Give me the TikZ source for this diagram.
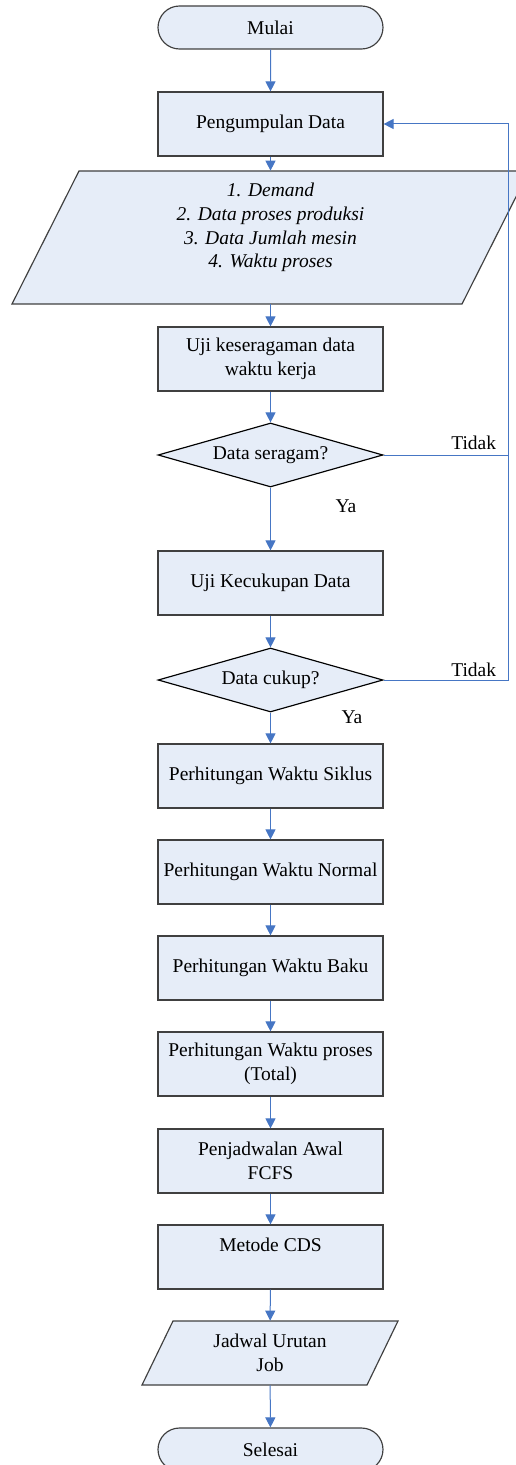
\documentclass[tikz,border=0pt]{standalone}
\usepackage{fontspec}
\setmainfont{Liberation Serif}
\usetikzlibrary{arrows.meta,shapes.geometric,shapes.misc}
\definecolor{boxfill}{RGB}{230,237,248}
\definecolor{flowblue}{RGB}{70,118,196}
\definecolor{boxline}{RGB}{64,64,64}

\begin{document}
\begin{tikzpicture}[x=0.6pt, y=-0.6pt,
  every node/.style={font=\fontsize{11.7}{14.2}\selectfont, align=center},
  proc/.style={draw=boxline, fill=boxfill, line width=0.7pt, rectangle,
    minimum width=135pt, minimum height=38.4pt, inner sep=0pt},
  term/.style={proc, rounded rectangle, minimum height=25.8pt},
  decide/.style={proc, diamond, aspect=3.52, draw=black},
  slab/.style={draw=boxline, fill=boxfill, line width=0.7pt},
  flow/.style={draw=flowblue, line width=0.6pt, -{Triangle[length=6pt,width=6pt]}},
  back/.style={draw=flowblue, line width=0.6pt}]
  \useasboundingbox (0,0) rectangle (515,1465);
  % Parallelograms for input and output
  \filldraw[slab] (79,171) -- (529,171) -- (462,304) -- (12,304) -- cycle;
  \filldraw[slab] (173,1321) -- (398,1321) -- (367,1385) -- (142,1385) -- cycle;
  % Start and data collection
  \node[term] (mulai) at (270.5,27.5) {Mulai};
  \node[proc] (peng) at (270.5,124) {Pengumpulan Data};
  \node[inner sep=0pt, minimum height=79.8pt,
    font=\fontsize{11.7}{14.2}\selectfont\itshape] (data) at (270.5,237.5)
    {1. Demand\\2. Data proses produksi\\3. Data Jumlah mesin\\4. Waktu proses\\~};
  % Tests on the data
  \node[proc] (uji) at (270.5,359) {Uji keseragaman data\\waktu kerja};
  \node[decide] (seragam) at (270.5,455) {Data seragam?};
  \node[proc] (cukupan) at (270.5,583) {Uji Kecukupan Data};
  \node[decide] (cukup) at (270.5,680) {Data cukup?};
  % Time calculations
  \node[proc] (siklus) at (270.5,776) {Perhitungan Waktu Siklus};
  \node[proc] (normal) at (270.5,872) {Perhitungan Waktu Normal};
  \node[proc] (baku) at (270.5,968) {Perhitungan Waktu Baku};
  \node[proc] (total) at (270.5,1064) {Perhitungan Waktu proses\\(Total)};
  % Scheduling
  \node[proc] (fcfs) at (270.5,1161) {Penjadwalan Awal\\FCFS};
  \node[proc] (cds) at (270.5,1257) {Metode CDS\\~};
  \node[inner sep=0pt, minimum height=38.4pt] (jadwal) at (270,1353) {Jadwal Urutan\\Job};
  \node[term] (selesai) at (270.5,1449.5) {Selesai};
  % Labels
  \node[anchor=base east] (tidak1) at (502,450) {Tidak};
  \node[anchor=base east] (tidak2) at (502,676) {Tidak};
  \node[anchor=base] (ya1) at (346,512) {Ya};
  \node[anchor=base] (ya2) at (352,723) {Ya};
  % Main flow
  \draw[flow] (mulai) -- (peng);
  \draw[flow] (peng) -- (data);
  \draw[flow] (data) -- (uji);
  \draw[flow] (uji) -- (seragam);
  \draw[flow] (seragam) -- (cukupan);
  \draw[flow] (cukupan) -- (cukup);
  \draw[flow] (cukup) -- (siklus);
  \draw[flow] (siklus) -- (normal);
  \draw[flow] (normal) -- (baku);
  \draw[flow] (baku) -- (total);
  \draw[flow] (total) -- (fcfs);
  \draw[flow] (fcfs) -- (cds);
  \draw[flow] (cds) -- (jadwal);
  \draw[flow] (jadwal) -- (selesai);
  % Loop back when the data fails a test
  \coordinate (loop) at (508,124);
  \draw[flow] (seragam.east) -| (loop) -- (peng.east);
  \draw[back] (cukup.east) -| (loop);
\end{tikzpicture}
\end{document}
